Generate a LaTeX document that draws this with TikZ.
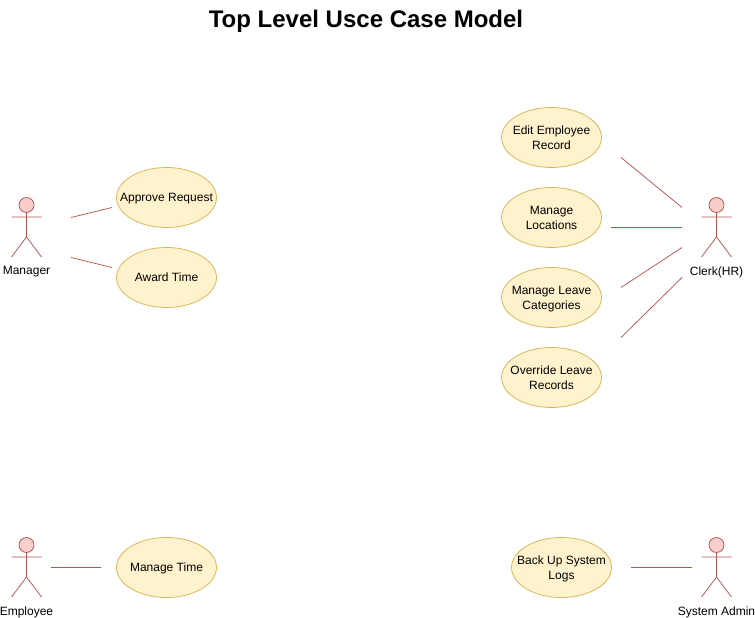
\documentclass[tikz,border=0pt]{standalone}
\usepackage{fontspec}
\setmainfont{Liberation Sans}
\usetikzlibrary{shapes.geometric}
\definecolor{ucfill}{HTML}{FFF2CC}
\definecolor{ucline}{HTML}{D6B656}
\definecolor{acfill}{HTML}{F8CECC}
\definecolor{acline}{HTML}{B85450}
\newcommand{\uctext}[1]{\makebox[0pt]{\raisebox{-4pt}[0pt][0pt]{\begin{tabular}{@{}c@{}}#1\end{tabular}}}}
\tikzset{
  usecase/.style={ellipse,draw=ucline,fill=ucfill,line width=0.75pt,minimum width=100pt,minimum height=60pt,inner sep=0pt,font=\fontsize{12}{15}\selectfont,text=black},
  assoc/.style={draw=acline,line width=0.75pt},
  actorlabel/.style={font=\fontsize{12}{15}\selectfont,text=black,inner sep=0pt},
  actorfig/.pic={
    \draw[assoc,fill=acfill] (0,-30) circle (7.5);
    \draw[assoc] (0,-22.5) -- (0,2) (-15,-18) -- (15,-18) (-15,22) -- (0,2) -- (15,22);
  }
}
\begin{document}
\begin{tikzpicture}[x=1pt,y=-1pt]
\useasboundingbox (0,0) rectangle (755,618);
\node[font=\fontsize{24}{28}\bfseries\selectfont,inner sep=0pt] (title) at (366,21) {Top Level Usce Case Model};

\node[usecase] (approve) at (166.5,197.5) {\uctext{Approve Request}};
\node[usecase] (award) at (166.5,277.5) {\uctext{Award Time}};
\node[usecase] (edit) at (551.5,137.5) {\uctext{Edit Employee\\Record}};
\node[usecase] (locations) at (551.5,217.5) {\uctext{Manage\\Locations}};
\node[usecase] (categories) at (551.5,297.5) {\uctext{Manage Leave\\Categories}};
\node[usecase] (override) at (551.5,377.5) {\uctext{Override Leave\\Records}};
\node[usecase] (time) at (166.5,567.5) {\uctext{Manage Time}};
\node[usecase] (backup) at (561.5,567.5) {\uctext{Back Up System\\Logs}};

\pic at (26.5,235) {actorfig};
\pic at (716.5,235) {actorfig};
\pic at (26.5,575) {actorfig};
\pic at (716.5,575) {actorfig};
\node[actorlabel] (manager) at (26.5,272) {Manager};
\node[actorlabel] (clerk) at (716.5,272) {Clerk(HR)};
\node[actorlabel] (employee) at (26.5,612) {Employee};
\node[actorlabel] (admin) at (716.5,612) {System Admin};

\coordinate (m1) at (71,217.5); \coordinate (a1) at (112,207.5);
\coordinate (m2) at (71,257.5); \coordinate (a2) at (112,267.5);
\coordinate (c1) at (682,207.5); \coordinate (e1) at (621,157.5);
\coordinate (c2) at (682,227.5); \coordinate (l1) at (611,227.5);
\coordinate (c3) at (682,247.5); \coordinate (g1) at (621,287.5);
\coordinate (c4) at (682,277.5); \coordinate (o1) at (621,337.5);
\coordinate (p1) at (51,567.5); \coordinate (t1) at (101,567.5);
\coordinate (s1) at (692,567); \coordinate (b1) at (631,567);
\draw[assoc] (m1) -- (a1);
\draw[assoc] (m2) -- (a2);
\draw[assoc] (c1) -- (e1);
\draw[assoc] (c2) -- (l1);
\draw[assoc] (c3) -- (g1);
\draw[assoc] (c4) -- (o1);
\draw[assoc] (p1) -- (t1);
\draw[assoc] (s1) -- (b1);
\end{tikzpicture}
\end{document}
